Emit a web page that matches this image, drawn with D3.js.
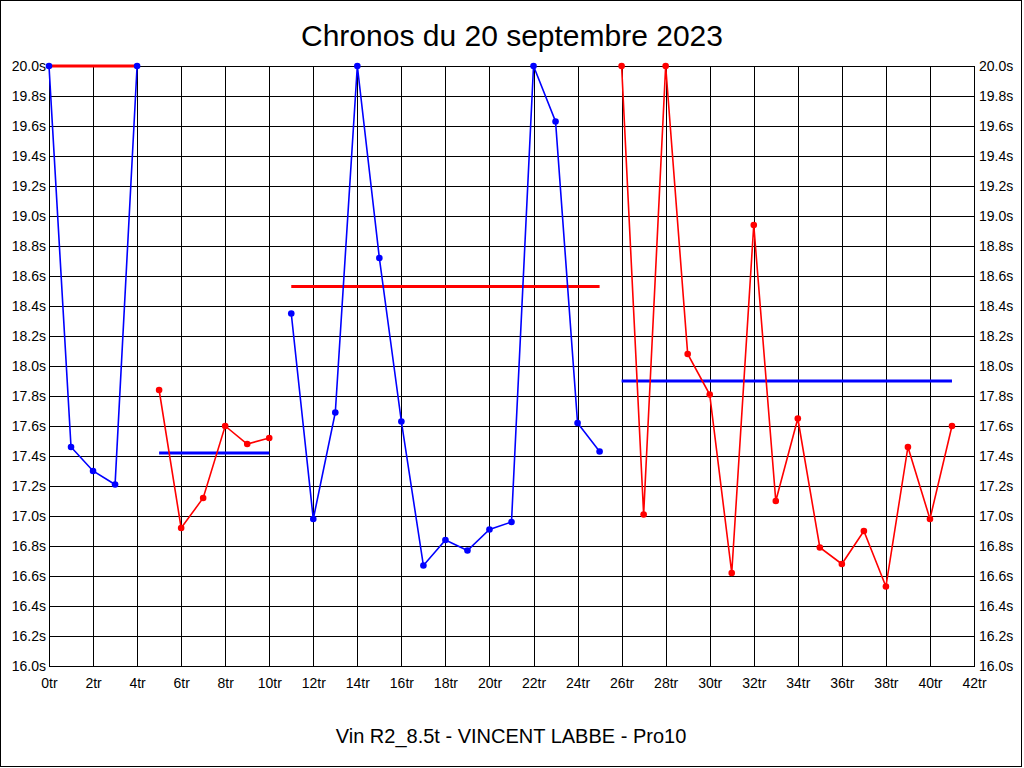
<!DOCTYPE html>
<html><head><meta charset="utf-8">
<script src="https://cdn.jsdelivr.net/npm/d3@7"></script>
<style>body{margin:0;background:#fff}svg{display:block}text{font-family:"Liberation Sans",Arial,sans-serif}</style>
</head><body>
<svg id="c" width="1024" height="768"></svg>
<script>
const title = "Chronos du 20 septembre 2023";
const subtitle = "Vin R2_8.5t - VINCENT LABBE - Pro10";
const lapTicks = d3.range(0, 43, 2);
const timeTicks = d3.range(16.0, 20.01, 0.2);
// segments of laps with their colour
const seg1Laps = [0,1,2,3,4];
const seg1Vals = [20.0,17.46,17.30,17.21,20.0];
const seg2Laps = [5,6,7,8,9,10];
const seg2Vals = [17.84,16.92,17.12,17.60,17.48,17.52];
const seg3Laps = [11,12,13,14,15,16,17,18,19,20,21,22,23,24,25];
const seg3Vals = [18.35,16.98,17.69,20.0,18.72,17.63,16.67,16.84,16.77,16.91,16.96,20.0,19.63,17.62,17.43];
const seg4Laps = [26,27,28,29,30,31,32,33,34,35,36,37,38,39,40,41];
const seg4Vals = [20.0,17.01,20.0,18.08,17.81,16.62,18.94,17.10,17.65,16.79,16.68,16.90,16.53,17.46,16.98,17.60];
const segColors = ["#0000ff","#ff0000","#0000ff","#ff0000"];
// reference (average) lines: [startLap, endLap, value]
const refStart = [0,5,11,26];
const refEnd = [4,10,25,41];
const refVals = [20.0,17.42,18.53,17.90];
const refColors = ["#ff0000","#0000ff","#ff0000","#0000ff"];

const svg = d3.select("#c");
const x = d3.scaleLinear().domain([0,42]).range([49,974]);
const y = d3.scaleLinear().domain([16,20]).range([666,66]);

svg.append("rect").attr("x",0.5).attr("y",0.5).attr("width",1021).attr("height",766)
  .attr("fill","#fff").attr("stroke","#000");

// grid
const g = svg.append("g");
g.selectAll(".v").data(lapTicks).enter().append("line")
  .attr("x1",d=>Math.round(x(d))+0.5).attr("x2",d=>Math.round(x(d))+0.5)
  .attr("y1",y(20)).attr("y2",y(16)+0.5).attr("stroke","#000").attr("stroke-width",1);
g.selectAll(".h").data(timeTicks).enter().append("line")
  .attr("x1",x(0)).attr("x2",x(42)+1)
  .attr("y1",d=>Math.round(y(d))+0.5).attr("y2",d=>Math.round(y(d))+0.5)
  .attr("stroke","#000").attr("stroke-width",1);

// axes labels via d3 axes
const fmtY = d=>d3.format(".1f")(d)+"s";
const left = svg.append("g").attr("transform","translate(46,0)")
  .call(d3.axisLeft(y).tickValues(timeTicks).tickFormat(fmtY).tickSize(0).tickPadding(0));
const right = svg.append("g").attr("transform","translate(979,0)")
  .call(d3.axisRight(y).tickValues(timeTicks).tickFormat(fmtY).tickSize(0).tickPadding(0));
const bottom = svg.append("g").attr("transform","translate(0,678)")
  .call(d3.axisBottom(x).tickValues(lapTicks).tickFormat(d=>d+"tr").tickSize(0).tickPadding(0));
[left,right,bottom].forEach(a=>{
  a.select(".domain").remove();
  a.selectAll("text").attr("font-size",14).attr("fill","#000")
   .style("font-family","'Liberation Sans',Arial,sans-serif");
});

// reference lines
refVals.forEach((v,i)=>{
  svg.append("line").attr("x1",x(refStart[i])).attr("x2",x(refEnd[i]))
    .attr("y1",y(v)).attr("y2",y(v)).attr("stroke",refColors[i]).attr("stroke-width",3);
});

// series
const segs = [[seg1Laps,seg1Vals],[seg2Laps,seg2Vals],[seg3Laps,seg3Vals],[seg4Laps,seg4Vals]];
const line = d3.line().x(d=>x(d[0])).y(d=>y(d[1]));
segs.forEach((s,i)=>{
  const pts = s[0].map((l,j)=>[l,s[1][j]]);
  svg.append("path").datum(pts).attr("d",line).attr("fill","none")
    .attr("stroke",segColors[i]).attr("stroke-width",1.6);
  svg.selectAll(null).data(pts).enter().append("circle")
    .attr("cx",d=>x(d[0])).attr("cy",d=>y(d[1])).attr("r",3.3).attr("fill",segColors[i]);
});

svg.append("text").attr("x",512).attr("y",46).attr("text-anchor","middle")
  .attr("font-size",30).text(title);
svg.append("text").attr("x",511).attr("y",743).attr("text-anchor","middle")
  .attr("font-size",20).text(subtitle);
</script>
</body></html>
